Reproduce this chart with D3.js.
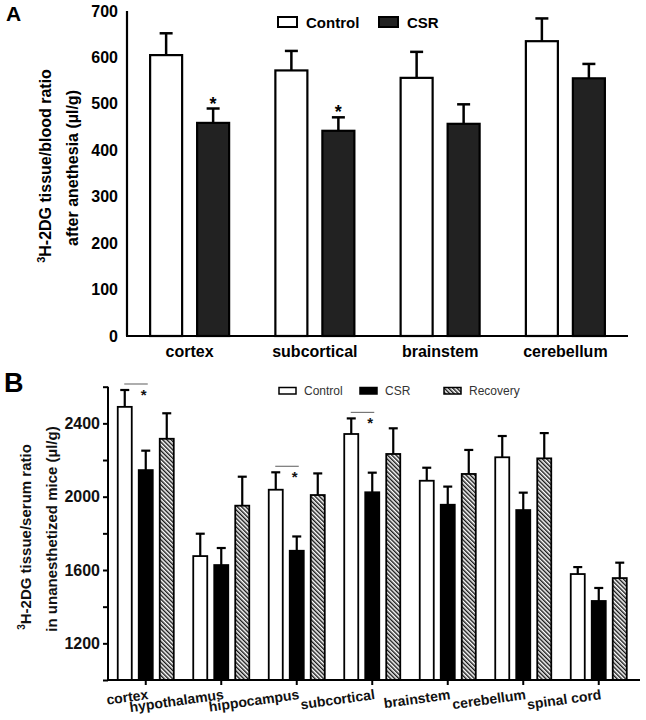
<!DOCTYPE html>
<html>
<head>
<meta charset="utf-8">
<script src="https://cdn.jsdelivr.net/npm/d3@7"></script>
<style>
  html, body { margin: 0; padding: 0; background: #fff; }
  svg { display: block; font-family: "Liberation Sans", Arial, Helvetica, sans-serif; }
</style>
</head>
<body>
<svg id="chart" width="646" height="720"></svg>
<script>
// ---------- Panel A data ----------
const categoriesA = ["cortex", "subcortical", "brainstem", "cerebellum"];
const seriesA = ["Control", "CSR"];
const controlA = [605, 572, 556, 635];
const controlErrA = [47, 42, 56, 49];
const csrA = [459, 442, 457, 555];
const csrErrA = [31, 29, 42, 31];
const sigA = [true, true, false, false];
const ticksA = [0, 100, 200, 300, 400, 500, 600, 700];

// ---------- Panel B data ----------
const categoriesB = ["cortex", "hypothalamus", "hippocampus", "subcortical", "brainstem", "cerebellum", "spinal cord"];
const seriesB = ["Control", "CSR", "Recovery"];
const controlB = [2490, 1676, 2038, 2342, 2087, 2215, 1578];
const controlErrB = [92, 122, 95, 85, 71, 116, 38];
const csrB = [2145, 1627, 1705, 2024, 1956, 1927, 1431];
const csrErrB = [106, 93, 78, 107, 99, 95, 71];
const recoveryB = [2316, 1951, 2009, 2233, 2124, 2209, 1556];
const recoveryErrB = [139, 158, 118, 140, 131, 138, 84];
const sigB = [true, false, true, true, false, false, false];
const ticksB = [1000, 1200, 1400, 1600, 1800, 2000, 2200, 2400, 2600];
const tickLabelsB = [1200, 1600, 2000, 2400];

const svg = d3.select("#chart");
const defs = svg.append("defs");
const pat = defs.append("pattern")
  .attr("id", "hatch").attr("patternUnits", "userSpaceOnUse")
  .attr("width", 3).attr("height", 3)
  .attr("patternTransform", "rotate(-45)");
pat.append("rect").attr("width", 3).attr("height", 3).attr("fill", "#fff");
pat.append("line").attr("x1", 0.75).attr("y1", 0).attr("x2", 0.75).attr("y2", 3)
  .attr("stroke", "#000").attr("stroke-width", 1.3);

// ================= Panel A =================
const gA = svg.append("g");
const xA = d3.scaleBand().domain(categoriesA).range([127, 628]).padding(0);
const xA2 = d3.scaleBand().domain(seriesA).range([0, xA.bandwidth()])
  .paddingInner(0.319).paddingOuter(0.492);
const yA = d3.scaleLinear().domain([0, 700]).range([336, 11]);

const dataA = categoriesA.map((c, i) => ({
  cat: c,
  vals: [
    { s: "Control", v: controlA[i], e: controlErrA[i] },
    { s: "CSR", v: csrA[i], e: csrErrA[i], sig: sigA[i] }
  ]
}));
const fillA = { Control: "#fff", CSR: "#222" };

// y axis
const yAxisA = d3.axisLeft(yA).tickValues(ticksA).tickSize(6).tickPadding(3).tickFormat(d3.format("d"));
const ya = gA.append("g").attr("transform", "translate(127,0)").call(yAxisA);
ya.select(".domain").attr("stroke-width", 2.2).attr("d", `M0,${yA(700)}V${yA(0)}`);
ya.selectAll(".tick line").attr("stroke-width", 2.2).attr("x1", -6);
ya.selectAll(".tick text").attr("font-size", 16).attr("font-weight", "bold").attr("fill", "#000")
  .attr("font-family", "Liberation Sans, Arial, sans-serif");

const grpA = gA.selectAll(".grpA").data(dataA).join("g")
  .attr("transform", d => `translate(${xA(d.cat)},0)`);
grpA.selectAll("line.err").data(d => d.vals).join("line")
  .attr("x1", d => xA2(d.s) + xA2.bandwidth() / 2)
  .attr("x2", d => xA2(d.s) + xA2.bandwidth() / 2)
  .attr("y1", d => yA(d.v)).attr("y2", d => yA(d.v + d.e))
  .attr("stroke", "#000").attr("stroke-width", 2.5);
grpA.selectAll("line.cap").data(d => d.vals).join("line")
  .attr("x1", d => xA2(d.s) + xA2.bandwidth() / 2 - 6.5)
  .attr("x2", d => xA2(d.s) + xA2.bandwidth() / 2 + 6.5)
  .attr("y1", d => yA(d.v + d.e)).attr("y2", d => yA(d.v + d.e))
  .attr("stroke", "#000").attr("stroke-width", 2.5);
grpA.selectAll("rect").data(d => d.vals).join("rect")
  .attr("x", d => xA2(d.s)).attr("width", xA2.bandwidth())
  .attr("y", d => yA(d.v)).attr("height", d => yA(0) - yA(d.v))
  .attr("fill", d => fillA[d.s]).attr("stroke", "#000").attr("stroke-width", 2.2);
grpA.selectAll("text.ast").data(d => d.vals.filter(v => v.sig)).join("text")
  .attr("x", d => xA2(d.s) + xA2.bandwidth() / 2)
  .attr("y", d => yA(d.v + d.e) + 1)
  .attr("text-anchor", "middle").attr("font-size", 18).attr("font-weight", "bold")
  .text("*");

// x axis A
gA.append("line").attr("x1", 126).attr("x2", 628).attr("y1", yA(0)).attr("y2", yA(0))
  .attr("stroke", "#000").attr("stroke-width", 2.2);
gA.selectAll("text.catA").data(categoriesA).join("text")
  .attr("x", d => xA(d) + xA.bandwidth() / 2).attr("y", 357)
  .attr("text-anchor", "middle").attr("font-size", 16).attr("font-weight", "bold")
  .text(d => d);

// y title A
const tA = gA.append("text").attr("transform", "translate(51,166) rotate(-90)")
  .attr("text-anchor", "middle").attr("font-size", 16).attr("font-weight", "bold");
tA.append("tspan").attr("font-size", 11).attr("dy", -6).text("3");
tA.append("tspan").attr("dy", 6).text("H-2DG tissue/blood ratio");
gA.append("text").attr("transform", "translate(78,168) rotate(-90)")
  .attr("text-anchor", "middle").attr("font-size", 16).attr("font-weight", "bold")
  .text("after anethesia (\u00b5l/g)");

// legend A
const legA = [{ s: "Control", x: 278 }, { s: "CSR", x: 379 }];
gA.selectAll("rect.leg").data(legA).join("rect")
  .attr("x", d => d.x).attr("y", 17).attr("width", 19).attr("height", 10)
  .attr("fill", d => fillA[d.s]).attr("stroke", "#000").attr("stroke-width", 2);
gA.selectAll("text.leg").data(legA).join("text")
  .attr("x", d => d.x + 28).attr("y", 27.5).attr("font-size", 15).attr("font-weight", "bold")
  .text(d => d.s);

gA.append("text").attr("x", 6).attr("y", 21).attr("font-size", 21).attr("font-weight", "bold").text("A");

// ================= Panel B =================
const gB = svg.append("g");
const xB = d3.scaleBand().domain(categoriesB).range([108, 636.5]).padding(0);
const xB2 = d3.scaleBand().domain(seriesB).range([0, xB.bandwidth()])
  .paddingInner(0.333).paddingOuter(0.464);
const yB = d3.scaleLinear().domain([1000, 2600]).range([680, 386.7]);
const fillB = { Control: "#fff", CSR: "#000", Recovery: "url(#hatch)" };

const dataB = categoriesB.map((c, i) => ({
  cat: c, sig: sigB[i],
  vals: [
    { s: "Control", v: controlB[i], e: controlErrB[i] },
    { s: "CSR", v: csrB[i], e: csrErrB[i] },
    { s: "Recovery", v: recoveryB[i], e: recoveryErrB[i] }
  ]
}));

const yAxisB = d3.axisLeft(yB).tickValues(ticksB).tickSize(5).tickPadding(3)
  .tickFormat(d => tickLabelsB.includes(d) ? d : "");
const yb = gB.append("g").attr("transform", "translate(108,0)").call(yAxisB);
yb.select(".domain").attr("stroke-width", 2).attr("d", `M0,${yB(2600)}V${yB(1000)}`);
yb.selectAll(".tick line").attr("stroke-width", 2);
yb.selectAll(".tick text").attr("font-size", 16).attr("font-weight", "bold").attr("fill", "#111")
  .attr("font-family", "Liberation Sans, Arial, sans-serif");

const grpB = gB.selectAll(".grpB").data(dataB).join("g")
  .attr("transform", d => `translate(${xB(d.cat)},0)`);
grpB.selectAll("line.err").data(d => d.vals).join("line")
  .attr("x1", d => xB2(d.s) + xB2.bandwidth() / 2)
  .attr("x2", d => xB2(d.s) + xB2.bandwidth() / 2)
  .attr("y1", d => yB(d.v)).attr("y2", d => yB(d.v + d.e))
  .attr("stroke", "#000").attr("stroke-width", 2.2);
grpB.selectAll("line.cap").data(d => d.vals).join("line")
  .attr("x1", d => xB2(d.s) + xB2.bandwidth() / 2 - 4.5)
  .attr("x2", d => xB2(d.s) + xB2.bandwidth() / 2 + 4.5)
  .attr("y1", d => yB(d.v + d.e)).attr("y2", d => yB(d.v + d.e))
  .attr("stroke", "#000").attr("stroke-width", 2.2);
grpB.selectAll("rect").data(d => d.vals).join("rect")
  .attr("x", d => xB2(d.s)).attr("width", xB2.bandwidth())
  .attr("y", d => yB(d.v)).attr("height", d => yB(1000) - yB(d.v))
  .attr("fill", d => fillB[d.s]).attr("stroke", "#000").attr("stroke-width", 1.8);

// significance brackets
const sigG = grpB.filter(d => d.sig);
sigG.append("line")
  .attr("x1", xB2("Control") + xB2.bandwidth() / 2 - 0.5)
  .attr("x2", xB2("CSR") + xB2.bandwidth() / 2 + 2)
  .attr("y1", d => yB(d.vals[0].v + d.vals[0].e) - 6)
  .attr("y2", d => yB(d.vals[0].v + d.vals[0].e) - 6)
  .attr("stroke", "#777").attr("stroke-width", 1.2);
sigG.append("text")
  .attr("x", xB2("CSR") + xB2.bandwidth() / 2 - 2)
  .attr("y", d => yB(d.vals[0].v + d.vals[0].e) + 10)
  .attr("text-anchor", "middle").attr("font-size", 15).attr("font-weight", "bold").attr("fill", "#111")
  .text("*");

// x axis B
const xAxisB = d3.axisBottom(xB).tickSize(5).tickFormat("");
const xb = gB.append("g").attr("transform", `translate(0,${yB(1000)})`).call(xAxisB);
xb.select(".domain").attr("stroke-width", 2).attr("d", "M107,0H640");
xb.selectAll(".tick line").attr("stroke-width", 2);
gB.selectAll("text.catB").data(categoriesB).join("text")
  .attr("transform", d => `translate(${xB(d) + xB.bandwidth() / 2 + 3},699) rotate(-8)`)
  .attr("text-anchor", "end").attr("font-size", 14).attr("font-weight", "bold").attr("fill", "#111")
  .text(d => d);

// y title B
const tB = gB.append("text").attr("transform", "translate(31,537) rotate(-90)")
  .attr("text-anchor", "middle").attr("font-size", 15).attr("font-weight", "bold").attr("fill", "#111");
tB.append("tspan").attr("font-size", 10).attr("dy", -6).text("3");
tB.append("tspan").attr("dy", 6).text("H-2DG tissue/serum ratio");
gB.append("text").attr("transform", "translate(57,529) rotate(-90)")
  .attr("text-anchor", "middle").attr("font-size", 15).attr("font-weight", "bold").attr("fill", "#111")
  .text("in unanesthetized mice (\u00b5l/g)");

// legend B
const legB = [{ s: "Control", x: 279 }, { s: "CSR", x: 360 }, { s: "Recovery", x: 444 }];
gB.selectAll("rect.leg").data(legB).join("rect")
  .attr("x", d => d.x).attr("y", 387.5).attr("width", 17).attr("height", 6.5)
  .attr("fill", d => fillB[d.s]).attr("stroke", "#000").attr("stroke-width", 1.5);
gB.selectAll("text.leg").data(legB).join("text")
  .attr("x", d => d.x + 25).attr("y", 395).attr("font-size", 12).attr("fill", "#333")
  .text(d => d.s);

gB.append("text").attr("x", 4).attr("y", 392).attr("font-size", 27).attr("font-weight", "bold").text("B");
</script>
</body>
</html>
